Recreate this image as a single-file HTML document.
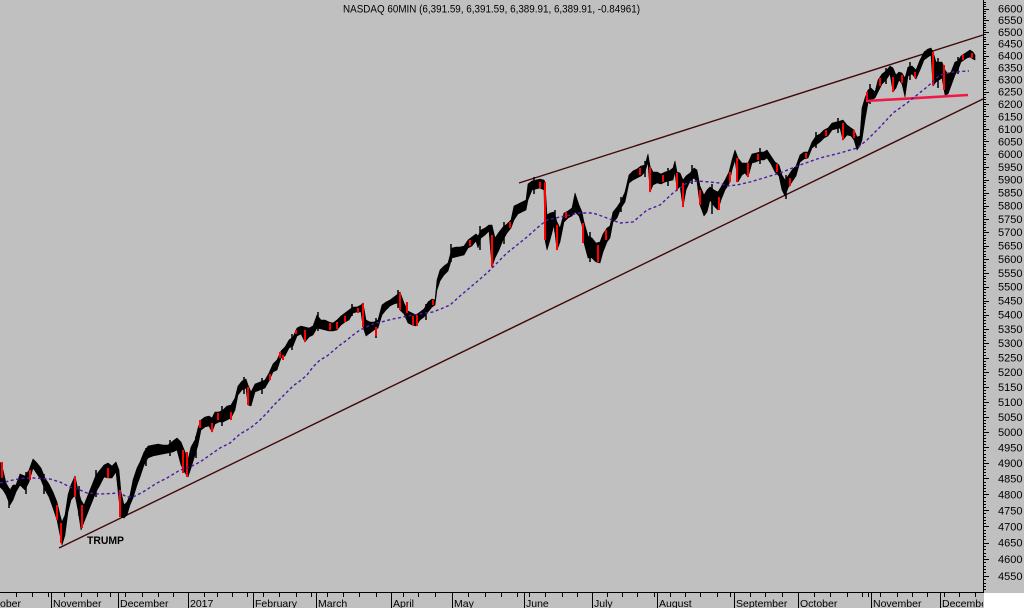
<!DOCTYPE html>
<html><head><meta charset="utf-8"><style>html,body{margin:0;padding:0;background:#c0c0c0;overflow:hidden}svg{display:block}</style></head>
<body>
<svg width="1024" height="608" viewBox="0 0 1024 608" xmlns="http://www.w3.org/2000/svg" font-family="'Liberation Sans', Arial, sans-serif">
<rect x="0" y="0" width="1024" height="608" fill="#c0c0c0"/>
<rect x="984" y="593" width="40" height="15" fill="#ffffff"/>

<text x="343" y="12.5" font-size="11" fill="#000" textLength="297" lengthAdjust="spacingAndGlyphs">NASDAQ 60MIN (6,391.59, 6,391.59, 6,389.91, 6,389.91, -0.84961)</text>

<!-- trend lines -->
<line x1="59" y1="548" x2="983" y2="99" stroke="#400808" stroke-width="1.4"/>
<line x1="519" y1="183" x2="983" y2="35" stroke="#400808" stroke-width="1.4"/>

<!-- price ribbon -->
<path fill="#000" stroke="#000" stroke-width="0.6" stroke-linejoin="round" d="M0 462 L3 470 L6 483 L10 490 L13 485 L16 485 L20 474 L25 476 L29 470 L33 459 L37 463 L41 468 L45 478 L49 484 L53 492 L57 502 L60 515 L62 522 L65 515 L68 495 L71 485 L75 476 L78 490 L81 500 L84 505 L88 495 L92 485 L96 475 L100 470 L104 465 L108 463 L112 466 L116 462 L119 470 L121 492 L124 505 L127 502 L130 495 L133 480 L137 468 L140 462 L144 452 L148 446 L153 445 L158 444 L163 445 L168 445 L173 441 L177 438 L181 442 L185 452 L188 460 L191 447 L195 440 L198 428 L201 420 L205 417 L209 416 L212 418 L215 412 L219 412 L223 410 L227 406 L231 405 L235 398 L238 386 L242 381 L246 379 L248 385 L251 392 L255 384 L260 382 L265 380 L269 373 L273 364 L277 360 L281 351 L285 347 L289 340 L293 337 L297 328 L301 326 L305 327 L309 328 L313 326 L317 315 L321 320 L325 320 L329 322 L333 323 L337 320 L341 316 L345 313 L349 310 L353 307 L357 307 L361 305 L363 303 L366 320 L370 322 L374 322 L378 320 L382 305 L386 302 L390 300 L394 297 L398 294 L400 292 L404 303 L408 311 L412 313 L416 315 L420 312 L424 309 L428 302 L432 299 L435 300 L437 280 L440 270 L444 266 L448 263 L452 248 L456 247 L460 247 L464 246 L468 240 L472 237 L476 234 L478 236 L481 230 L485 228 L489 225 L492 225 L495 238 L499 232 L503 227 L507 224 L511 220 L514 206 L518 204 L522 202 L526 200 L528 184 L532 181 L536 180 L540 179 L544 180 L545 182 L547 215 L550 213 L554 212 L557 222 L560 228 L564 213 L568 211 L572 208 L575 193 L579 205 L582 212 L584 222 L588 236 L592 238 L596 243 L600 242 L603 234 L607 228 L610 226 L613 212 L617 207 L621 201 L625 192 L629 175 L633 171 L637 169 L641 166 L645 165 L648 154 L650 166 L653 172 L657 172 L661 174 L665 172 L669 171 L673 168 L675 161 L677 172 L680 173 L683 180 L686 176 L690 173 L694 168 L697 170 L700 186 L704 195 L707 190 L710 187 L714 190 L718 192 L721 187 L725 180 L729 172 L732 160 L735 150 L738 158 L742 163 L745 163 L748 163 L752 154 L756 153 L760 152 L764 152 L767 150 L771 156 L775 162 L779 165 L782 175 L785 180 L788 176 L792 170 L796 166 L800 155 L804 152 L808 152 L812 142 L816 136 L820 134 L824 130 L828 128 L832 123 L836 122 L840 121 L843 120 L847 125 L851 128 L854 130 L857 137 L860 136 L862 108 L865 98 L868 90 L871 88 L875 92 L878 80 L882 74 L886 71 L890 66 L893 68 L896 75 L899 72 L902 73 L905 78 L908 67 L912 66 L916 70 L920 60 L924 52 L928 49 L931 48 L933 52 L936 62 L939 62 L942 62 L945 70 L948 74 L951 72 L955 62 L958 61 L961 56 L964 54 L967 52 L970 50 L973 52 L975 55 L975 60 L973 59 L970 57 L967 58 L964 60 L961 62 L958 70 L955 75 L951 86 L948 94 L945 95 L942 78 L939 80 L936 82 L933 86 L931 55 L928 57 L924 60 L920 70 L916 79 L912 74 L908 76 L905 97 L902 84 L899 80 L896 88 L893 92 L890 74 L886 80 L882 84 L878 92 L875 98 L871 100 L868 103 L865 120 L862 140 L860 146 L857 150 L854 140 L851 136 L847 135 L843 140 L840 128 L836 129 L832 130 L828 136 L824 138 L820 142 L816 145 L812 148 L808 158 L804 159 L800 162 L796 176 L792 182 L788 188 L785 196 L782 190 L779 176 L775 172 L771 164 L767 158 L764 160 L760 160 L756 162 L752 163 L748 177 L745 173 L742 175 L738 182 L735 160 L732 170 L729 184 L725 190 L721 200 L718 210 L714 206 L710 200 L707 212 L704 216 L700 205 L697 182 L694 178 L690 181 L686 190 L683 207 L680 186 L677 190 L675 172 L673 180 L669 181 L665 182 L661 184 L657 183 L653 185 L650 192 L648 162 L645 172 L641 176 L637 178 L633 180 L629 183 L625 202 L621 208 L617 218 L613 222 L610 238 L607 242 L603 252 L600 263 L596 262 L592 258 L588 258 L584 243 L582 225 L579 216 L575 212 L572 216 L568 218 L564 222 L560 242 L557 250 L554 225 L550 240 L547 250 L545 240 L544 190 L540 188 L536 189 L532 190 L528 200 L526 210 L522 212 L518 214 L514 220 L511 228 L507 233 L503 240 L499 250 L495 258 L492 267 L489 231 L485 235 L481 238 L478 248 L476 241 L472 246 L468 248 L464 255 L460 256 L456 257 L452 258 L448 271 L444 275 L440 281 L437 290 L435 305 L432 307 L428 312 L424 317 L420 320 L416 326 L412 325 L408 323 L404 314 L400 310 L398 303 L394 304 L390 306 L386 310 L382 315 L378 328 L374 330 L370 333 L366 336 L363 327 L361 312 L357 312 L353 313 L349 320 L345 322 L341 325 L337 330 L333 331 L329 331 L325 330 L321 329 L317 328 L313 335 L309 337 L305 342 L301 334 L297 336 L293 346 L289 348 L285 356 L281 358 L277 370 L273 372 L269 381 L265 388 L260 390 L255 392 L251 406 L248 405 L246 388 L242 390 L238 395 L235 410 L231 418 L227 420 L223 422 L219 422 L215 424 L212 432 L209 426 L205 427 L201 430 L198 445 L195 455 L191 468 L188 477 L185 473 L181 465 L177 450 L173 452 L168 453 L163 454 L158 455 L153 456 L148 458 L144 465 L140 477 L137 485 L133 498 L130 505 L127 515 L124 518 L121 517 L119 500 L116 472 L112 478 L108 478 L104 477 L100 485 L96 492 L92 502 L88 512 L84 522 L81 530 L78 510 L75 495 L71 500 L68 512 L65 535 L62 545 L60 535 L57 520 L53 508 L49 497 L45 490 L41 480 L37 474 L33 468 L29 482 L25 490 L20 485 L16 492 L13 500 L10 505 L6 495 L3 490 L0 487 Z"/>

<!-- extra wick spikes -->
<path fill="none" stroke="#000" stroke-width="1.5" d="M9 488V508 M26 472V494 M44 474V494 M79 486V516 M96 470V497 M146 448V466 M170 440V456 M196 436V458 M222 406V426 M244 377V394 M262 378V394 M292 334V350 M318 312V331 M352 304V316 M376 318V338 M398 290V308 M426 304V320 M451 244V262 M480 226V250 M504 222V244 M534 177V194 M555 210V232 M590 232V262 M621 197V212 M645 161V177 M668 168V186 M692 165V184 M712 184V214 M760 148V164 M786 175V199 M816 132V148 M838 118V133 M870 84V104 M886 68V84 M910 62V80 M938 58V88 M958 57V74"/>

<!-- red (down) bars -->
<path fill="none" stroke="#ff0000" stroke-width="2" d="M2 462V478 M30 470V480 M57 505V520 M61 523V543 M75 477V497 M82 505V528 M108 468V478 M120 490V517 M183 450V473 M187 452V477 M200 420V428 M212 423V432 M218 413V420 M231 412V420 M248 387V405 M270 374V380 M280 352V358 M283 355V360 M296 330V334 M305 330V342 M330 323V330 M337 322V329 M345 316V322 M358 308V313 M363 303V327 M376 327V336 M400 293V310 M407 302V313 M413 316V325 M417 315V326 M433 300V305 M470 240V246 M492 235V267 M510 222V228 M540 182V188 M545 182V240 M557 225V250 M566 212V218 M583 223V243 M598 245V262 M606 230V240 M640 168V175 M650 167V192 M663 175V182 M677 173V190 M683 183V207 M700 190V205 M719 197V210 M730 172V182 M737 158V182 M748 163V177 M758 154V160 M777 164V172 M790 178V186 M806 153V158 M826 130V136 M843 123V140 M854 130V138 M867 92V100 M880 78V86 M893 77V92 M902 75V83 M915 72V78 M933 52V85 M944 65V90 M963 55V60 M972 53V58"/>

<!-- horizontal support -->
<line x1="866" y1="101" x2="968" y2="95" stroke="#f01848" stroke-width="2.6"/>

<!-- moving average -->
<polyline fill="none" stroke="#4b1aa0" stroke-width="1.4" stroke-dasharray="3 2.5" points="0,483 5,482 13,480 25,478 33,478 50,479 60,482 70,487 80,490 87,493 100,494 120,493 127,497 133,497 143,492 157,483 167,478 180,470 190,467 200,462 210,455 220,448 230,443 240,434 247,430 253,426 260,420 267,413 273,406 280,399 287,392 293,386 300,381 307,375 313,367 320,360 327,356 333,351 340,345 347,340 353,335 360,330 373,324 393,319 413,315 433,312 443,308 450,305 460,296 473,285 487,273 497,263 507,253 517,245 527,237 537,228 547,220 560,217 580,213 593,213 607,218 620,223 633,222 647,210 660,205 673,193 687,183 697,181 710,182 720,183 727,186 737,185 750,182 767,177 780,173 800,165 820,158 840,153 857,148 867,140 880,127 893,113 907,103 927,87 940,75 953,72 969,71"/>

<text x="87" y="544" font-size="11" font-weight="bold" fill="#000" textLength="37" lengthAdjust="spacingAndGlyphs">TRUMP</text>

<!-- axes -->
<path fill="none" stroke="#000" stroke-width="1" d="M983.5 0V593 M0 592.5H984"/>

<!-- right ticks major -->
<path fill="none" stroke="#000" stroke-width="1" d="M983 9.5h6M983 20.5h6M983 32.5h6M983 44.5h6M983 56.5h6M983 68.5h6M983 80.5h6M983 92.5h6M983 104.5h6M983 116.5h6M983 129.5h6M983 141.5h6M983 154.5h6M983 167.5h6M983 180.5h6M983 193.5h6M983 206.5h6M983 219.5h6M983 232.5h6M983 246.5h6M983 259.5h6M983 273.5h6M983 287.5h6M983 301.5h6M983 315.5h6M983 329.5h6M983 343.5h6M983 358.5h6M983 372.5h6M983 387.5h6M983 402.5h6M983 417.5h6M983 432.5h6M983 447.5h6M983 463.5h6M983 478.5h6M983 494.5h6M983 510.5h6M983 526.5h6M983 543.5h6M983 559.5h6M983 576.5h6"/>
<!-- right ticks minor -->
<path fill="none" stroke="#000" stroke-width="1" d="M983 2.5h3M983 4.5h3M983 6.5h3M983 11.5h3M983 13.5h3M983 16.5h3M983 18.5h3M983 23.5h3M983 25.5h3M983 27.5h3M983 30.5h3M983 34.5h3M983 37.5h3M983 39.5h3M983 41.5h3M983 46.5h3M983 48.5h3M983 51.5h3M983 53.5h3M983 58.5h3M983 60.5h3M983 63.5h3M983 65.5h3M983 70.5h3M983 72.5h3M983 75.5h3M983 77.5h3M983 82.5h3M983 84.5h3M983 87.5h3M983 89.5h3M983 94.5h3M983 97.5h3M983 99.5h3M983 102.5h3M983 106.5h3M983 109.5h3M983 111.5h3M983 114.5h3M983 119.5h3M983 121.5h3M983 124.5h3M983 126.5h3M983 131.5h3M983 134.5h3M983 136.5h3M983 139.5h3M983 144.5h3M983 146.5h3M983 149.5h3M983 151.5h3M983 157.5h3M983 159.5h3M983 162.5h3M983 164.5h3M983 169.5h3M983 172.5h3M983 174.5h3M983 177.5h3M983 182.5h3M983 185.5h3M983 187.5h3M983 190.5h3M983 195.5h3M983 198.5h3M983 200.5h3M983 203.5h3M983 208.5h3M983 211.5h3M983 214.5h3M983 216.5h3M983 222.5h3M983 224.5h3M983 227.5h3M983 230.5h3M983 235.5h3M983 238.5h3M983 240.5h3M983 243.5h3M983 248.5h3M983 251.5h3M983 254.5h3M983 256.5h3M983 262.5h3M983 265.5h3M983 267.5h3M983 270.5h3M983 276.5h3M983 278.5h3M983 281.5h3M983 284.5h3M983 289.5h3M983 292.5h3M983 295.5h3M983 298.5h3M983 303.5h3M983 306.5h3M983 309.5h3M983 312.5h3M983 317.5h3M983 320.5h3M983 323.5h3M983 326.5h3M983 332.5h3M983 335.5h3M983 337.5h3M983 340.5h3M983 346.5h3M983 349.5h3M983 352.5h3M983 355.5h3M983 361.5h3M983 364.5h3M983 366.5h3M983 369.5h3M983 375.5h3M983 378.5h3M983 381.5h3M983 384.5h3M983 390.5h3M983 393.5h3M983 396.5h3M983 399.5h3M983 405.5h3M983 408.5h3M983 411.5h3M983 414.5h3M983 420.5h3M983 423.5h3M983 426.5h3M983 429.5h3M983 435.5h3M983 438.5h3M983 441.5h3M983 444.5h3M983 450.5h3M983 454.5h3M983 457.5h3M983 460.5h3M983 466.5h3M983 469.5h3M983 472.5h3M983 475.5h3M983 482.5h3M983 485.5h3M983 488.5h3M983 491.5h3M983 497.5h3M983 501.5h3M983 504.5h3M983 507.5h3M983 513.5h3M983 517.5h3M983 520.5h3M983 523.5h3M983 530.5h3M983 533.5h3M983 536.5h3M983 539.5h3M983 546.5h3M983 549.5h3M983 553.5h3M983 556.5h3M983 562.5h3M983 566.5h3M983 569.5h3M983 572.5h3M983 579.5h3M983 583.5h3M983 586.5h3M983 589.5h3"/>

<!-- right labels -->
<g font-size="11" fill="#000">
<text x="998" y="12.6">6600</text><text x="998" y="24.2">6550</text><text x="998" y="35.9">6500</text><text x="998" y="47.7">6450</text><text x="998" y="59.6">6400</text><text x="998" y="71.5">6350</text><text x="998" y="83.6">6300</text><text x="998" y="95.7">6250</text><text x="998" y="108">6200</text><text x="998" y="120.3">6150</text><text x="998" y="132.8">6100</text><text x="998" y="145.3">6050</text><text x="998" y="158">6000</text><text x="998" y="170.8">5950</text><text x="998" y="183.6">5900</text><text x="998" y="196.6">5850</text><text x="998" y="209.7">5800</text><text x="998" y="222.9">5750</text><text x="998" y="236.2">5700</text><text x="998" y="249.7">5650</text><text x="998" y="263.2">5600</text><text x="998" y="276.9">5550</text><text x="998" y="290.7">5500</text><text x="998" y="304.6">5450</text><text x="998" y="318.7">5400</text><text x="998" y="332.9">5350</text><text x="998" y="347.2">5300</text><text x="998" y="361.6">5250</text><text x="998" y="376.2">5200</text><text x="998" y="391">5150</text><text x="998" y="405.8">5100</text><text x="998" y="420.9">5050</text><text x="998" y="436">5000</text><text x="998" y="451.4">4950</text><text x="998" y="466.9">4900</text><text x="998" y="482.5">4850</text><text x="998" y="498.3">4800</text><text x="998" y="514.3">4750</text><text x="998" y="530.4">4700</text><text x="998" y="546.7">4650</text><text x="998" y="563.2">4600</text><text x="998" y="579.9">4550</text>
</g>

<!-- bottom ticks -->
<path fill="none" stroke="#000" stroke-width="1" d="M16.5 592v5M32.5 592v5M48.5 592v5M64.5 592v5M81.5 592v5M97.5 592v5M110.5 592v5M125.5 592v5M142.5 592v5M158.5 592v5M173.5 592v5M204.5 592v5M217.5 592v5M232.5 592v5M247.5 592v5M263.5 592v5M279.5 592v5M296.5 592v5M311.5 592v5M327.5 592v5M343.5 592v5M359.5 592v5M376.5 592v5M403.5 592v5M418.5 592v5M435.5 592v5M468.5 592v5M485.5 592v5M501.5 592v5M517.5 592v5M529.5 592v5M545.5 592v5M562.5 592v5M577.5 592v5M607.5 592v5M622.5 592v5M637.5 592v5M654.5 592v5M670.5 592v5M685.5 592v5M700.5 592v5M717.5 592v5M730.5 592v5M750.5 592v5M765.5 592v5M782.5 592v5M814.5 592v5M830.5 592v5M847.5 592v5M862.5 592v5M868.5 592v5M880.5 592v5M897.5 592v5M912.5 592v5M927.5 592v5M944.5 592v5M959.5 592v5M975.5 592v5"/>
<path fill="none" stroke="#000" stroke-width="1" d="M51.5 592V608M118.5 592V608M188.5 592V608M253.5 592V608M316.5 592V608M391.5 592V608M452.5 592V608M524.5 592V608M592.5 592V608M657.5 592V608M734.5 592V608M798.5 592V608M871.5 592V608M940.5 592V608"/>

<!-- month labels -->
<g font-size="10.5" fill="#000">
<text x="0" y="607">ober</text>
<text x="53" y="607">November</text>
<text x="120" y="607">December</text>
<text x="190" y="607">2017</text>
<text x="255" y="607">February</text>
<text x="318" y="607">March</text>
<text x="393" y="607">April</text>
<text x="454" y="607">May</text>
<text x="526" y="607">June</text>
<text x="594" y="607">July</text>
<text x="659" y="607">August</text>
<text x="736" y="607">September</text>
<text x="800" y="607">October</text>
<text x="873" y="607">November</text>
</g>
<svg x="0" y="0" width="983" height="608"><text x="942" y="607" font-size="10.5" fill="#000">December</text></svg>
</svg>
</body></html>
